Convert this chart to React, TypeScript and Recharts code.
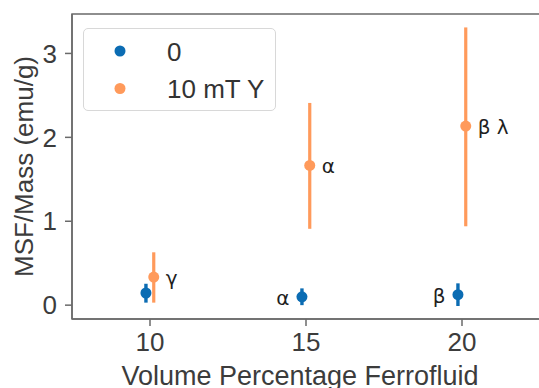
import React from "react";
import {
  ScatterChart, Scatter, XAxis, YAxis, ErrorBar, ReferenceArea, Legend, Label,
} from "recharts";

// volume percentage of ferrofluid (category positions)
const volumes = [10, 15, 20];

// no field ("0")
const zeroMean = [0.145, 0.1, 0.125];
const zeroLow = [0.03, 0.0, -0.01];
const zeroHigh = [0.255, 0.2, 0.26];
const zeroNotes = ["", "α", "β"];

// 10 mT Y
const fieldMean = [0.335, 1.665, 2.135];
const fieldLow = [0.03, 0.91, 0.94];
const fieldHigh = [0.63, 2.41, 3.31];
const fieldNotes = ["γ", "α", "β λ"];

const yTicks = [0, 1, 2, 3];
const xTicks = [10, 15, 20];

const BLUE = "#0B6CB3";
const ORANGE = "#FF9A5B";
const AXIS = "#6a6a6a";
const TEXT = "#3c3c3c";
const FONT = "'Liberation Sans', Arial, sans-serif";

const X_DOMAIN: [number, number] = [7.5, 22.5];
const Y_DOMAIN: [number, number] = [-0.165, 3.47];

function build(mean: number[], low: number[], high: number[], notes: string[], shift: number) {
  return volumes.map((v, i) => ({
    x: v + shift,
    y: mean[i],
    err: [mean[i] - low[i], high[i] - mean[i]],
    note: notes[i],
  }));
}

const zeroData = build(zeroMean, zeroLow, zeroHigh, zeroNotes, -0.13);
const fieldData = build(fieldMean, fieldLow, fieldHigh, fieldNotes, 0.12);

function makeShape(side: "left" | "right") {
  return (props: any) => {
    const { cx, cy, fill, payload } = props;
    return (
      <g>
        <circle cx={cx} cy={cy} r={5.5} fill={fill} />
        {payload?.note && (
          <text
            x={side === "left" ? cx - 12.5 : cx + 12}
            y={cy}
            dy="0.4em"
            textAnchor={side === "left" ? "end" : "start"}
            fontSize={20}
            fontFamily="'DejaVu Sans', sans-serif"
            fill="#1e1e1e"
          >
            {payload.note}
          </text>
        )}
      </g>
    );
  };
}

function LegendBox({ payload }: any) {
  const items = payload ?? [];
  return (
    <div
      style={{
        width: 193, height: 83, boxSizing: "border-box", background: "#fff",
        border: "1px solid #d8d8d8", borderRadius: 5,
      }}
    >
      <svg width={191} height={81} style={{ display: "block" }}>
        {items.map((it: any, i: number) => (
          <g key={it.value}>
            <circle cx={36} cy={22 + i * 37.5} r={5.5} fill={it.color} />
            <text x={83} y={31.5 + i * 37.5} fontSize={26} fill="#333" fontFamily={FONT}>
              {it.value}
            </text>
          </g>
        ))}
      </svg>
    </div>
  );
}

export default function App() {
  return (
    <div
      style={{
        position: "fixed", left: 0, top: 0, width: 539, height: 388,
        overflow: "hidden", background: "#fff", fontFamily: FONT,
      }}
    >
      <ScatterChart width={545} height={388} margin={{ top: 14, right: 5, bottom: 0, left: 0 }}>
        <ReferenceArea
          x1={X_DOMAIN[0]} x2={X_DOMAIN[1]} y1={Y_DOMAIN[0]} y2={Y_DOMAIN[1]}
          fill="none" stroke={AXIS} strokeWidth={1.5} ifOverflow="visible"
        />
        <XAxis
          type="number" dataKey="x" domain={X_DOMAIN} ticks={xTicks} allowDataOverflow
          height={69} tickSize={7} tickMargin={7} stroke={AXIS} strokeWidth={1.5}
          tick={{ fill: TEXT, fontSize: 26, fontFamily: FONT }}
        >
          <Label
            value="Volume Percentage Ferrofluid" position="insideBottom" offset={3} dx={-6}
            style={{ fill: TEXT, fontSize: 27, fontFamily: FONT }}
          />
        </XAxis>
        <YAxis
          type="number" dataKey="y" domain={Y_DOMAIN} ticks={yTicks} allowDataOverflow
          width={72} tickSize={7} tickMargin={8} stroke={AXIS} strokeWidth={1.5}
          tick={{ fill: TEXT, fontSize: 26, fontFamily: FONT }}
        >
          <Label
            content={() => (
              <text
                transform="translate(33,166.5) rotate(-90)" textAnchor="middle"
                fontSize={26} fill={TEXT} fontFamily={FONT}
              >
                MSF/Mass (emu/g)
              </text>
            )}
          />
        </YAxis>
        <Legend
          layout="vertical" align="center" verticalAlign="middle"
          wrapperStyle={{ left: 83, top: 28, width: 193, height: 83 }}
          content={<LegendBox />}
        />
        <Scatter name="0" data={zeroData} fill={BLUE} shape={makeShape("left")} isAnimationActive={false}>
          <ErrorBar dataKey="err" direction="y" width={0} stroke={BLUE} strokeWidth={3.4} />
        </Scatter>
        <Scatter name="10 mT Y" data={fieldData} fill={ORANGE} shape={makeShape("right")} isAnimationActive={false}>
          <ErrorBar dataKey="err" direction="y" width={0} stroke={ORANGE} strokeWidth={3.2} />
        </Scatter>
      </ScatterChart>
    </div>
  );
}
